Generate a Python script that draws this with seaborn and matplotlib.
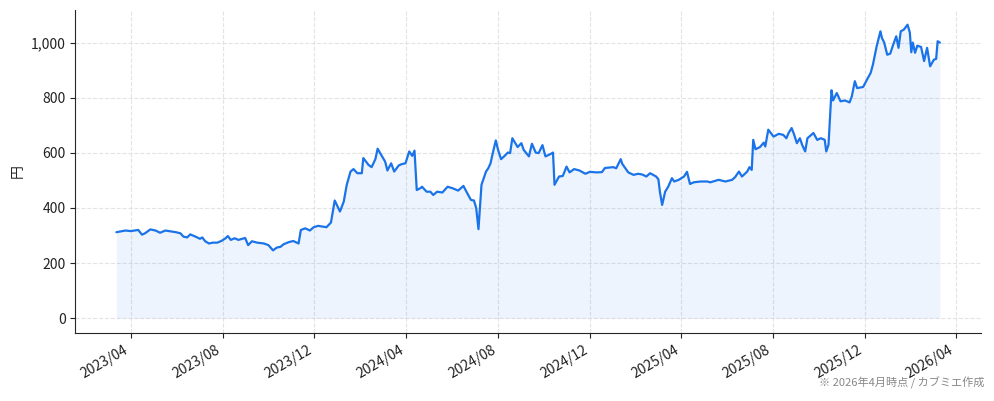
import numpy as np
import pandas as pd
import matplotlib
matplotlib.use("Agg")
import matplotlib.pyplot as plt
import matplotlib.dates as mdates
import matplotlib.ticker as mticker
import seaborn as sns

# ====================== DATA ======================
dates = [
    "2023-03-13", "2023-03-25", "2023-04-01", "2023-04-11", "2023-04-16", "2023-04-20", "2023-04-27",
    "2023-05-04", "2023-05-10", "2023-05-17", "2023-05-24", "2023-05-31", "2023-06-06", "2023-06-10",
    "2023-06-15", "2023-06-19", "2023-06-26", "2023-07-02", "2023-07-05", "2023-07-09", "2023-07-14",
    "2023-07-19", "2023-07-25", "2023-07-31", "2023-08-05", "2023-08-08", "2023-08-12", "2023-08-17",
    "2023-08-22", "2023-08-27", "2023-08-31", "2023-09-04", "2023-09-09", "2023-09-16", "2023-09-25",
    "2023-10-01", "2023-10-07", "2023-10-12", "2023-10-17", "2023-10-21", "2023-10-28", "2023-11-03",
    "2023-11-10", "2023-11-13", "2023-11-19", "2023-11-25", "2023-11-30", "2023-12-06", "2023-12-17",
    "2023-12-23", "2023-12-28", "2024-01-04", "2024-01-09", "2024-01-13", "2024-01-18", "2024-01-22",
    "2024-01-27", "2024-02-02", "2024-02-04", "2024-02-11", "2024-02-15", "2024-02-20", "2024-02-23",
    "2024-02-27", "2024-03-04", "2024-03-07", "2024-03-12", "2024-03-16", "2024-03-22", "2024-03-26",
    "2024-03-31", "2024-04-05", "2024-04-09", "2024-04-12", "2024-04-15", "2024-04-20", "2024-04-22",
    "2024-04-28", "2024-05-03", "2024-05-07", "2024-05-12", "2024-05-19", "2024-05-26", "2024-06-01",
    "2024-06-09", "2024-06-16", "2024-06-20", "2024-06-26", "2024-06-30", "2024-07-03", "2024-07-06",
    "2024-07-10", "2024-07-16", "2024-07-19", "2024-07-22", "2024-07-25", "2024-07-29", "2024-08-01",
    "2024-08-05", "2024-08-09", "2024-08-14", "2024-08-17", "2024-08-20", "2024-08-27", "2024-09-01",
    "2024-09-04", "2024-09-11", "2024-09-15", "2024-09-20", "2024-09-24", "2024-09-29", "2024-10-03",
    "2024-10-10", "2024-10-13", "2024-10-15", "2024-10-21", "2024-10-26", "2024-10-31", "2024-11-04",
    "2024-11-10", "2024-11-17", "2024-11-25", "2024-12-01", "2024-12-10", "2024-12-17", "2024-12-21",
    "2025-01-01", "2025-01-05", "2025-01-11", "2025-01-13", "2025-01-21", "2025-01-28", "2025-02-03",
    "2025-02-09", "2025-02-14", "2025-02-19", "2025-02-27", "2025-03-02", "2025-03-04", "2025-03-07",
    "2025-03-11", "2025-03-15", "2025-03-20", "2025-03-23", "2025-03-29", "2025-04-05", "2025-04-09",
    "2025-04-13", "2025-04-18", "2025-04-27", "2025-05-06", "2025-05-10", "2025-05-21", "2025-05-30",
    "2025-06-08", "2025-06-12", "2025-06-17", "2025-06-21", "2025-06-28", "2025-07-01", "2025-07-04",
    "2025-07-06", "2025-07-09", "2025-07-15", "2025-07-20", "2025-07-22", "2025-07-26", "2025-08-02",
    "2025-08-09", "2025-08-15", "2025-08-19", "2025-08-22", "2025-08-26", "2025-08-29", "2025-09-02",
    "2025-09-06", "2025-09-09", "2025-09-13", "2025-09-16", "2025-09-24", "2025-09-29", "2025-10-04",
    "2025-10-09", "2025-10-11", "2025-10-14", "2025-10-18", "2025-10-20", "2025-10-25", "2025-10-30",
    "2025-11-05", "2025-11-11", "2025-11-14", "2025-11-18", "2025-11-21", "2025-11-29", "2025-12-04",
    "2025-12-09", "2025-12-12", "2025-12-17", "2025-12-22", "2025-12-24", "2025-12-27", "2025-12-31",
    "2026-01-04", "2026-01-08", "2026-01-12", "2026-01-15", "2026-01-18", "2026-01-22", "2026-01-27",
    "2026-01-30", "2026-02-01", "2026-02-03", "2026-02-06", "2026-02-09", "2026-02-14", "2026-02-18",
    "2026-02-22", "2026-02-26", "2026-03-03", "2026-03-06", "2026-03-08", "2026-03-11",
]
prices = [
    312, 318, 316, 320, 303, 308, 322,
    318, 310, 318, 315, 312, 308, 296,
    293, 304, 296, 288, 293, 279, 271,
    274, 274, 281, 290, 298, 284, 290,
    284, 288, 291, 265, 279, 274, 271,
    265, 246, 256, 259, 268, 276, 280,
    271, 320, 326, 318, 330, 335, 330,
    347, 427, 387, 423, 484, 532, 541,
    526, 526, 581, 556, 548, 577, 615,
    596, 568, 536, 562, 532, 554, 559,
    562, 605, 589, 608, 465, 472, 477,
    459, 459, 447, 459, 456, 477, 472,
    463, 480, 459, 429, 427, 399, 323,
    484, 532, 544, 562, 599, 645, 611,
    577, 587, 601, 599, 653, 621, 635,
    611, 587, 633, 601, 599, 628, 587,
    596, 601, 484, 514, 516, 550, 529,
    541, 536, 524, 531, 529, 530, 545,
    548, 544, 577, 560, 529, 520, 524,
    521, 514, 526, 514, 504, 459, 411,
    459, 477, 508, 496, 502, 514, 531,
    487, 493, 496, 496, 493, 502, 496,
    502, 512, 532, 514, 532, 548, 538,
    647, 613, 621, 637, 623, 684, 659,
    669, 665, 653, 672, 690, 669, 635,
    653, 629, 605, 653, 672, 647, 653,
    647, 605, 629, 827, 790, 817, 787,
    790, 783, 805, 860, 835, 839, 865,
    890, 920, 987, 1041, 1017, 1000, 956,
    960, 993, 1023, 981, 1041, 1047, 1065,
    1037, 965, 1000, 963, 989, 984, 933,
    981, 914, 938, 941, 1005, 1000,
]

y_label = "円"
note = "※ 2026年4月時点 / カブミエ作成"
line_color = "#1a73e8"

df = pd.DataFrame({"date": pd.to_datetime(dates), "price": prices})

# ====================== PLOT ======================
sns.set_style("ticks")
plt.rcParams["font.family"] = ["Noto Sans CJK JP", "DejaVu Sans"]

fig, ax = plt.subplots(figsize=(9.94, 4.01), dpi=100)
fig.subplots_adjust(left=0.0757, right=0.987, top=0.975, bottom=0.17)

sns.lineplot(data=df, x="date", y="price", ax=ax, color=line_color, linewidth=1.6)
ax.fill_between(df["date"], 0, df["price"], color=line_color, alpha=0.08, linewidth=0)

ax.xaxis.set_major_locator(mdates.MonthLocator(bymonth=[4, 8, 12]))
ax.xaxis.set_major_formatter(mdates.DateFormatter("%Y/%m"))
plt.setp(ax.get_xticklabels(), rotation=30, ha="right")
ax.yaxis.set_major_formatter(mticker.FuncFormatter(lambda v, p: f"{v:,.0f}"))
ax.tick_params(labelsize=10, colors="#222222")

ax.grid(True, linestyle="--", color="#dddddd", linewidth=0.8, alpha=0.8)
ax.set_axisbelow(True)
sns.despine(ax=ax)

ax.set_xlabel("")
ax.set_ylabel(y_label, fontsize=10)

fig.text(0.99, 0.03, note, ha="right", va="bottom", fontsize=8, color="#888888")

plt.savefig("out.png", dpi=100)
